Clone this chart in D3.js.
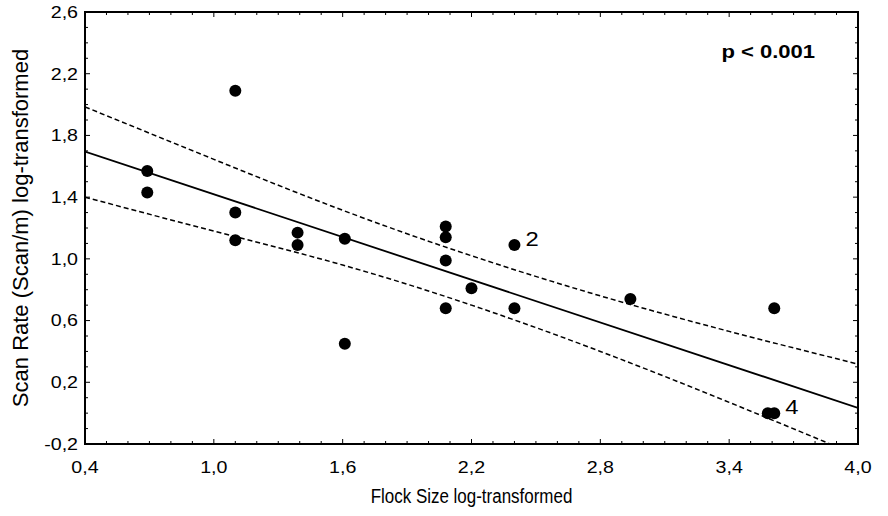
<!DOCTYPE html>
<html>
<head>
<meta charset="utf-8">
<script src="https://cdn.jsdelivr.net/npm/d3@7"></script>
<style>
  body { margin: 0; background: #fff; }
  svg text { font-family: "Liberation Sans", Arial, sans-serif; fill: #000; }
</style>
</head>
<body>
<div id="chart"></div>
<script>
// observed points (log-transformed)
const flockSize = [0.69, 0.69, 1.10, 1.10, 1.10, 1.39, 1.39, 1.61, 1.61,
    2.08, 2.08, 2.08, 2.08, 2.20, 2.40, 2.40, 2.94, 3.61, 3.58, 3.61]
const scanRate = [1.57, 1.43, 2.09, 1.30, 1.12, 1.17, 1.09, 1.13, 0.45,
    1.21, 1.14, 0.99, 0.68, 0.81, 1.09, 0.68, 0.74, 0.68, 0.0, 0.0]

// fitted line and 95% confidence band
const fitX = [0.4, 4.0]
const fitY = [1.695, 0.034]
const ciX = [0.4, 1.0, 1.6, 2.2, 2.8, 3.4, 4.0]
const ciUpper = [1.985, 1.645, 1.315, 1.02, 0.76, 0.53, 0.318]
const ciLower = [1.40, 1.18, 0.96, 0.70, 0.40, 0.07, -0.275]

const xTicks = [0.4, 1.0, 1.6, 2.2, 2.8, 3.4, 4.0]
const yTicks = [-0.2, 0.2, 0.6, 1.0, 1.4, 1.8, 2.2, 2.6]

const notes = [
    { x: 2.40, y: 1.09, text: "2" },
    { x: 3.61, y: 0.0, text: "4" }
]

const width = 888, height = 516
const margin = { top: 12, right: 30, bottom: 72, left: 85 }
const stretch = 1.19   // the original lettering is a bit wide

const svg = d3.select("#chart").append("svg")
    .attr("width", width)
    .attr("height", height)

const x = d3.scaleLinear().domain([0.4, 4.0]).range([margin.left, width - margin.right])
const y = d3.scaleLinear().domain([-0.2, 2.6]).range([height - margin.bottom, margin.top])

const fmt = d => d3.format(".1f")(d).replace(".", ",").replace("−", "-")

svg.append("clipPath").attr("id", "clip")
    .append("rect")
    .attr("x", x(0.4)).attr("y", y(2.6))
    .attr("width", x(4.0) - x(0.4)).attr("height", y(-0.2) - y(2.6))

// minor + major ticks on all four sides, pointing inward
const minorX = d3.range(0.4, 4.0001, 0.1).map(d => +d.toFixed(2))
const minorY = d3.range(-0.2, 2.6001, 0.1).map(d => +d.toFixed(2))
const isMajor = (v, list) => list.some(t => Math.abs(t - v) < 1e-6)

const ticks = svg.append("g").attr("stroke", "#000").attr("stroke-width", 1)
minorX.forEach(v => {
    const len = isMajor(v, xTicks) ? 5 : 3
    ticks.append("line").attr("x1", x(v)).attr("x2", x(v))
        .attr("y1", y(-0.2)).attr("y2", y(-0.2) - len)
    ticks.append("line").attr("x1", x(v)).attr("x2", x(v))
        .attr("y1", y(2.6)).attr("y2", y(2.6) + len)
})
minorY.forEach(v => {
    const len = isMajor(v, yTicks) ? 5 : 3
    ticks.append("line").attr("y1", y(v)).attr("y2", y(v))
        .attr("x1", x(0.4)).attr("x2", x(0.4) + len)
    ticks.append("line").attr("y1", y(v)).attr("y2", y(v))
        .attr("x1", x(4.0)).attr("x2", x(4.0) - len)
})

// tick labels
svg.append("g").selectAll("text")
    .data(xTicks).enter().append("text")
    .attr("transform", d => `translate(${x(d)}, ${y(-0.2) + 29}) scale(${stretch}, 1)`)
    .attr("text-anchor", "middle")
    .attr("font-size", 16.5)
    .text(fmt)

svg.append("g").selectAll("text")
    .data(yTicks).enter().append("text")
    .attr("transform", d => `translate(${x(0.4) - 7}, ${y(d)}) scale(${stretch}, 1)`)
    .attr("dy", "0.35em")
    .attr("text-anchor", "end")
    .attr("font-size", 16.5)
    .text(fmt)

// axis titles (condensed lettering)
svg.append("text")
    .attr("transform", `translate(${(x(0.4) + x(4.0)) / 2}, 503) scale(0.87, 1)`)
    .attr("text-anchor", "middle")
    .attr("font-size", 19.5)
    .text("Flock Size log-transformed")

svg.append("text")
    .attr("transform", `translate(28, ${(y(-0.2) + y(2.6)) / 2}) rotate(-90)`)
    .attr("text-anchor", "middle")
    .attr("font-size", 22)
    .text("Scan Rate (Scan/m) log-transformed")

const plot = svg.append("g").attr("clip-path", "url(#clip)")

const ciLine = d3.line().x(d => x(d[0])).y(d => y(d[1])).curve(d3.curveNatural)

plot.append("path")
    .attr("d", ciLine(d3.zip(ciX, ciUpper)))
    .attr("fill", "none").attr("stroke", "#000")
    .attr("stroke-width", 1.5).attr("stroke-dasharray", "5,3")

plot.append("path")
    .attr("d", ciLine(d3.zip(ciX, ciLower)))
    .attr("fill", "none").attr("stroke", "#000")
    .attr("stroke-width", 1.5).attr("stroke-dasharray", "5,3")

plot.append("path")
    .attr("d", d3.line().x(d => x(d[0])).y(d => y(d[1]))(d3.zip(fitX, fitY)))
    .attr("fill", "none").attr("stroke", "#000").attr("stroke-width", 1.8)

plot.selectAll("circle")
    .data(d3.zip(flockSize, scanRate))
    .enter().append("circle")
    .attr("cx", d => x(d[0]))
    .attr("cy", d => y(d[1]))
    .attr("r", 6)
    .attr("fill", "#000")

svg.append("g").selectAll("text")
    .data(notes).enter().append("text")
    .attr("transform", d => `translate(${x(d.x) + 11}, ${y(d.y) + 1}) scale(${stretch}, 1)`)
    .attr("font-size", 20)
    .text(d => d.text)

svg.append("text")
    .attr("transform", `translate(815, 58) scale(${stretch}, 1)`)
    .attr("text-anchor", "end")
    .attr("font-size", 18.5)
    .attr("font-weight", "bold")
    .text("p < 0.001")

// frame
svg.append("rect")
    .attr("x", x(0.4)).attr("y", y(2.6))
    .attr("width", x(4.0) - x(0.4)).attr("height", y(-0.2) - y(2.6))
    .attr("fill", "none").attr("stroke", "#000").attr("stroke-width", 2)
</script>
</body>
</html>
